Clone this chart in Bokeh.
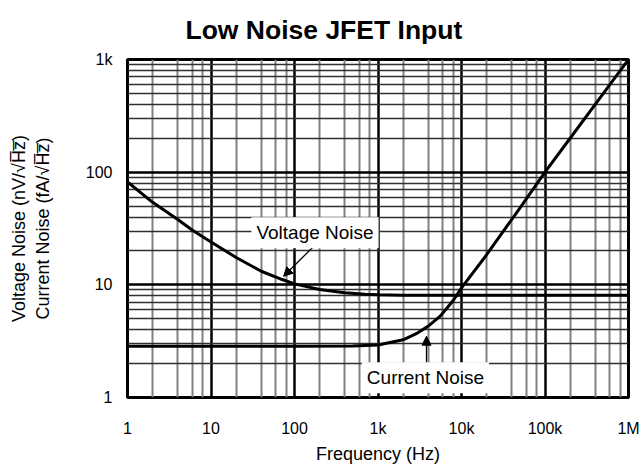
from bokeh.plotting import figure
from bokeh.models import FixedTicker, Label, Arrow, NormalHead, Title
from bokeh.embed import file_html
from bokeh.resources import INLINE

# ---- data ----
freq_v = [1, 2, 4, 6, 10, 20, 40, 70, 100, 200, 400, 700, 1000, 2000, 10000, 100000, 1000000]
volt_noise = [82, 54, 38, 30.5, 24, 17.5, 13.2, 11.2, 10.2, 9.1, 8.5, 8.25, 8.15, 8.1, 8.1, 8.1, 8.1]

freq_i = [1, 10, 100, 500, 1000, 2000, 3000, 4000, 5600, 8000, 10000, 20000, 50000, 100000, 200000, 500000, 1000000]
curr_noise = [2.85, 2.85, 2.85, 2.87, 2.92, 3.25, 3.75, 4.3, 5.3, 7.3, 9.4, 18.5, 48, 100, 200, 500, 1000]

x_ticks = [1, 10, 100, 1000, 10000, 100000, 1000000]
x_tick_labels = ["1", "10", "100", "1k", "10k", "100k", "1M"]
x_minor = [d * m for d in [1, 10, 100, 1000, 10000, 100000] for m in (2, 4, 6, 8)]

y_ticks = [1, 10, 100, 1000]
y_tick_labels = ["1", "10", "100", "1k"]
y_minor = [d * m for d in [1, 10, 100] for m in range(2, 10)]

title_text = "Low Noise JFET Input"
FONT = "Liberation Sans"

p = figure(width=642, height=466, x_axis_type="log", y_axis_type="log",
           x_range=(1, 1e6), y_range=(1, 1000),
           output_backend="svg", toolbar_location=None,
           min_border_left=127, min_border_right=14,
           min_border_top=59, min_border_bottom=68)

p.title = Title(text=title_text, align="left", vertical_align="top",
                offset=58, standoff=26,
                text_font=FONT, text_font_size="26.5px", text_font_style="bold",
                text_color="black")

p.outline_line_color = "black"
p.outline_line_width = 3
p.outline_line_alpha = 1

# axes
p.xaxis.ticker = FixedTicker(ticks=x_ticks, minor_ticks=x_minor)
p.yaxis.ticker = FixedTicker(ticks=y_ticks, minor_ticks=y_minor)
p.xaxis.major_label_overrides = {t: l for t, l in zip(x_ticks, x_tick_labels)}
p.yaxis.major_label_overrides = {t: l for t, l in zip(y_ticks, y_tick_labels)}
for ax in (p.xaxis, p.yaxis):
    ax.axis_line_color = None
    ax.major_tick_line_color = None
    ax.minor_tick_line_color = None
    ax.major_tick_out = 0
    ax.major_label_text_font = FONT
    ax.major_label_text_font_size = "16px"
    ax.major_label_text_color = "black"
    ax.axis_label_text_font = FONT
    ax.axis_label_text_font_size = "18px"
    ax.axis_label_text_font_style = "normal"
    ax.axis_label_text_color = "black"

p.xaxis.axis_label = "Frequency (Hz)"
p.xaxis.major_label_standoff = 18
p.xaxis.axis_label_standoff = 4
p.yaxis.axis_label = "Voltage Noise (nV/\u221aH\u0305z\u0305)\nCurrent Noise (fA/\u221aH\u0305z\u0305)"
p.yaxis.major_label_standoff = 11
p.yaxis.axis_label_standoff = 30

# grids
p.xgrid.ticker = p.xaxis.ticker
p.ygrid.ticker = p.yaxis.ticker
p.xgrid.grid_line_color = "black"
p.xgrid.grid_line_width = 2.5
p.xgrid.grid_line_alpha = 1
p.xgrid.minor_grid_line_color = "#808080"
p.xgrid.minor_grid_line_width = 2
p.ygrid.grid_line_color = "black"
p.ygrid.grid_line_width = 2.5
p.ygrid.grid_line_alpha = 1
p.ygrid.minor_grid_line_color = "#303030"
p.ygrid.minor_grid_line_width = 1.3

# curves
p.line(freq_v, volt_noise, line_color="black", line_width=3)
p.line(freq_i, curr_noise, line_color="black", line_width=3)

# annotations
p.add_layout(Arrow(end=NormalHead(size=9, fill_color="black", line_color="black"),
                   x_start=169, y_start=21.9, x_end=74, y_end=11.9,
                   line_color="black", line_width=1.3))
p.add_layout(Arrow(end=NormalHead(size=9, fill_color="black", line_color="black"),
                   x_start=3810, y_start=1.96, x_end=3810, y_end=3.5,
                   line_color="black", line_width=1.3))

for txt, fx, vy in [("Voltage Noise", 176, 29.0), ("Current Noise", 3700, 1.5)]:
    p.add_layout(Label(x=fx, y=vy, text=txt, text_align="center", text_baseline="middle",
                       text_font=FONT, text_font_size="19px", text_color="black",
                       background_fill_color="white", background_fill_alpha=1,
                       padding=5))

open("out.html", "w").write(file_html(p, INLINE))
